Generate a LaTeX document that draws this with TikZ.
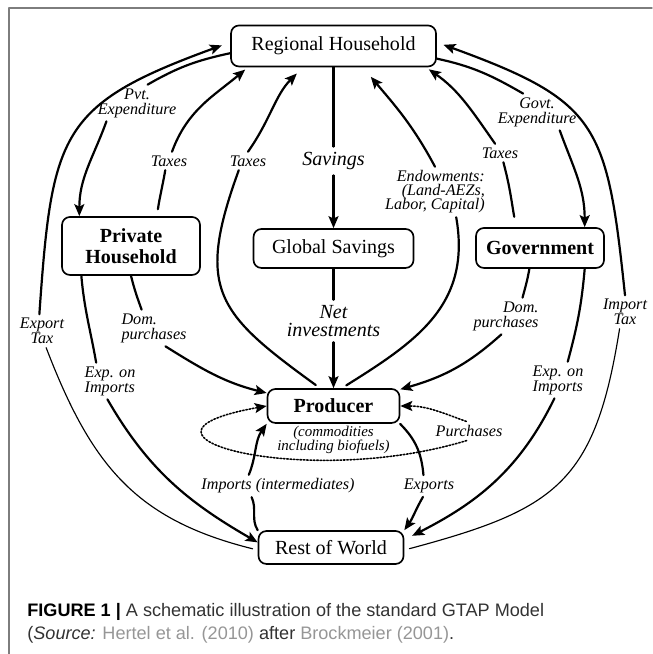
\documentclass[tikz,border=0pt]{standalone}
\usepackage{fontspec}
\setmainfont{Liberation Serif}
\newfontfamily\capfont{Liberation Sans}
\usetikzlibrary{arrows.meta,positioning}
\definecolor{framegray}{RGB}{125,125,125}
\definecolor{capgray}{RGB}{50,50,50}
\definecolor{linkgray}{RGB}{150,150,150}
\begin{document}
\begin{tikzpicture}[line join=round, line cap=round, >={Stealth[length=2.4mm,width=2mm,inset=0.5mm]},
  box/.style={draw, line width=0.95pt, rounded corners=0.16cm, inner sep=0pt, align=center, font=\fontsize{11.4}{11.6}\selectfont},
  boldbox/.style={box, font=\fontsize{11.4}{11.6}\selectfont\bfseries},
  lbl/.style={inner sep=2pt, align=center, font=\fontsize{9.2}{8.5}\selectfont\itshape},
  biglbl/.style={inner sep=3pt, align=center, font=\fontsize{11.4}{10.2}\selectfont\itshape},
  flow/.style={line width=1.25pt},
  taxflow/.style={line width=0.65pt},
  dotflow/.style={densely dotted, line width=0.9pt}]
\useasboundingbox (0,0) rectangle (13.04,13.08);
% Khung
\draw[framegray, line width=0.8pt] (0.18,0) -- (0.18,12.92) -- (13.04,12.92);
% Các hộp
\node[box, minimum width=4.1cm, minimum height=0.82cm] (rh) at (6.67,12.16) {Regional Household};
\node[boldbox, minimum width=2.76cm, minimum height=1.16cm] (ph) at (2.62,8.16) {Private\\Household};
\node[box, minimum width=3.2cm, minimum height=0.78cm] (gs) at (6.67,8.11) {Global Savings};
\node[boldbox, minimum width=2.56cm, minimum height=0.8cm] (gov) at (10.8,8.12) {Government};
\node[boldbox, minimum width=2.64cm, minimum height=0.68cm] (prod) at (6.67,4.96) {Producer};
\node[box, minimum width=2.9cm, minimum height=0.66cm] (row) at (6.62,2.13) {Rest of World};
\node[lbl, font=\fontsize{8.5}{8}\selectfont\itshape, inner sep=1pt, below=0pt of prod] (commod) {(commodities\\including biofuels)};
% Nhãn các dòng
\node[lbl] (pvtexp) at (2.74,11.02) {Pvt.\\Expenditure};
\node[lbl] (taxph) at (3.38,9.86) {Taxes};
\node[lbl] (taxprod) at (4.96,9.86) {Taxes};
\node[biglbl] (savings) at (6.67,9.86) {Savings};
\node[lbl, align=right, font={\fontsize{9.2}{8}\selectfont\itshape\lineskiplimit=-5pt\relax}] (endow) at (8.70,9.24) {Endowments:\\(Land-AEZs,\\Labor, Capital)};
\node[lbl] (taxgov) at (10.0,10.02) {Taxes};
\node[lbl] (govexp) at (10.74,10.84) {Govt.\\Expenditure};
\node[biglbl] (net) at (6.67,6.66) {Net\\investments};
\node[lbl, align=left] (domph) at (3.08,6.52) {Dom.\\purchases};
\node[lbl, align=left] (expimpph) at (2.2,5.46) {Exp. on\\Imports};
\node[lbl] (exptax) at (0.84,6.46) {Export\\Tax};
\node[lbl, align=right] (domgov) at (10.12,6.76) {Dom.\\purchases};
\node[lbl, align=left] (expimpgov) at (11.16,5.48) {Exp. on\\Imports};
\node[lbl] (imptax) at (12.5,6.84) {Import\\Tax};
\node[lbl] (imports) at (5.56,3.36) {Imports (intermediates)};
\node[lbl] (exports) at (8.58,3.36) {Exports};
\node[lbl] (purch) at (9.38,4.46) {Purchases};
% Hộ gia đình tư nhân
\draw[flow] (rh.184) to[out=192,in=30] (pvtexp.60);
\draw[flow,->] (pvtexp.211) to[out=250,in=90] (ph.150);
\draw[flow, shorten <=4pt] (ph.49) to[out=82,in=260] (taxph.248);
\draw[flow,->, shorten >=2pt] (taxph.72) to[out=70,in=220] (rh.194);
\draw[flow] (ph.south) to[out=284,in=110] (domph.124);
\draw[flow,->] (domph.302) to[out=-32,in=166] (prod.169);
\draw[flow] (ph.211) to[out=-85,in=100] (expimpph.127);
\draw[flow,->] (expimpph.262) to[out=-60,in=150] (row.176);
% Nhà sản xuất
\draw[flow, shorten <=3pt] (prod.127) to[out=144,in=250,looseness=1.4] (taxprod.225);
\draw[flow,->, shorten >=5pt] (taxprod.north) to[out=55,in=225] (rh.215);
\draw[flow, shorten <=3pt] (prod.65) to[out=32,in=280,looseness=1.1] (endow.310);
\draw[flow,->, shorten >=7pt] (endow.north) to[out=118,in=310] (rh.324);
% Tiết kiệm
\draw[flow] (rh) -- (savings);
\draw[flow,->] (savings) -- (gs);
\draw[flow] (gs) -- (net);
\draw[flow,->] (net) -- (prod);
% Chính phủ
\draw[flow] (rh.-7) to[out=-12,in=150] (govexp.127);
\draw[flow,->] (govexp.321) to[out=-70,in=90] (gov.25);
\draw[flow, shorten <=6pt] (gov.139) to[out=100,in=285] (taxgov.290);
\draw[flow,->, shorten >=2pt] (taxgov.118) to[out=125,in=-35] (rh.-13);
\draw[flow] (gov.243) to[out=260,in=75] (domgov.48);
\draw[flow,->] (domgov.256) to[out=222,in=16] (prod.14);
\draw[flow] (gov.-25) to[out=265,in=75] (expimpgov.62);
\draw[flow,->, shorten >=5pt] (expimpgov.259) to[out=244,in=27] (row.6);
% Thuế xuất nhập khẩu
\draw[taxflow, shorten <=3pt] (row.182) to[out=166,in=291,looseness=1.1] (exptax.284);
\draw[flow,->, shorten >=5pt] (exptax.99) to[out=86,in=200,looseness=1.4] (rh.178);
\draw[taxflow, shorten <=3pt] (row.358) to[out=15,in=261,looseness=1.3] (imptax.252);
\draw[flow,->, shorten >=4pt] (imptax.north) to[out=96,in=-20,looseness=1.4] (rh.2);
% Phần còn lại của thế giới
\draw[flow] (row.north west) to[out=122,in=295] (imports.203);
\draw[flow,->] (imports.159) to[out=68,in=235] (prod.south west);
\draw[flow] (prod.-15) to[out=-45,in=95] (exports.117);
\draw[flow,->] (exports.241) to[out=240,in=55] (row.north east);
% Mua hàng trung gian
\draw[dotflow,->] (purch.106) to[out=160,in=0] (prod.east);
\draw[dotflow,->] (purch.256) .. controls +(197:3.35) and +(190:3.4) .. (prod.west);
% Chú thích
\node[anchor=base west, inner sep=0pt, text=capgray, font=\capfont\fontsize{10.3}{12}\selectfont] (cap1) at (0.54,0.76) {\textbf{\color{black}FIGURE 1 |} A schematic illustration of the standard GTAP Model};
\node[anchor=base west, inner sep=0pt, text=capgray, font=\capfont\fontsize{10.3}{12}\selectfont] (cap2) at (0.54,0.28) {(\textit{Source:} \textcolor{linkgray}{Hertel et al. (2010)} after \textcolor{linkgray}{Brockmeier (2001)}.};
\end{tikzpicture}
\end{document}
